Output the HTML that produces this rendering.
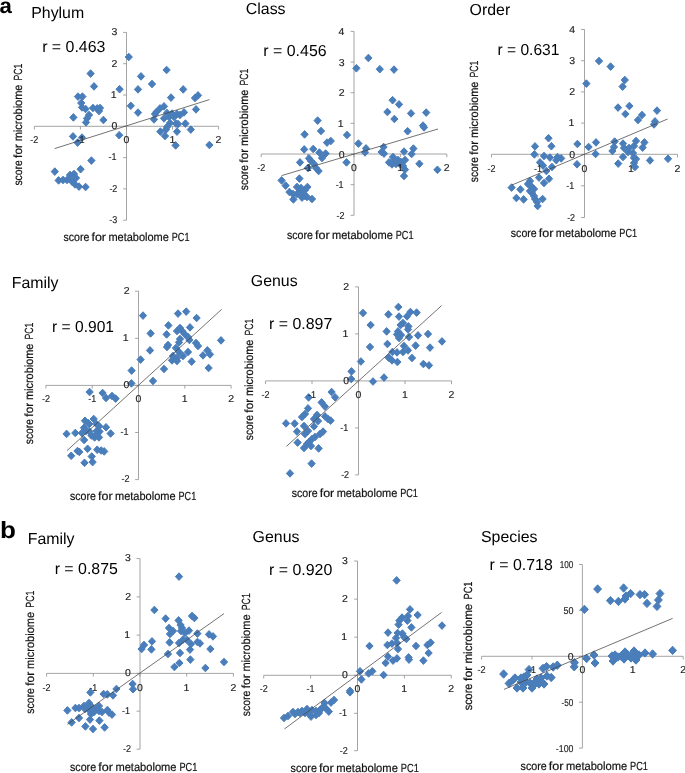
<!DOCTYPE html>
<html lang="en"><head><meta charset="utf-8"><title>Figure</title>
<style>
html,body{margin:0;padding:0;background:#fff}
body{width:685px;height:773px;overflow:hidden}
svg{display:block}
text{font-family:"Liberation Sans",sans-serif;fill:#000;text-rendering:geometricPrecision}
.t{font-size:15.9px}
.k{font-size:10.0px;fill:#222;stroke:#222;stroke-width:0.15px}
.l{font-size:11.8px;fill:#111;stroke:#111;stroke-width:0.2px}
.b{font-size:21.5px;font-weight:bold}
.d{fill:#4a7ebb;stroke:#4a7ebb;stroke-width:1;stroke-linejoin:round}
.a{stroke:#8e8e8e;stroke-width:0.8;fill:none}
.r{stroke:#444;stroke-width:0.75;fill:none}
</style></head><body>
<svg width="685" height="773" viewBox="0 0 685 773">
<rect width="685" height="773" fill="#fff"/>
<g>
<text class="t" x="31.19" y="18" textLength="53.02" lengthAdjust="spacingAndGlyphs">Phylum</text>
<text class="t" x="42.17" y="51.8" textLength="63.21" lengthAdjust="spacingAndGlyphs">r = 0.463</text>
<path class="a" d="M34.4 126.3H218.6 M126.5 32.4V220.2 M34.4 126.3v3.2 M80.4 126.3v3.2 M126.5 126.3v3.2 M172.5 126.3v3.2 M218.6 126.3v3.2 M126.5 32.4h-3.4 M126.5 63.7h-3.4 M126.5 95h-3.4 M126.5 126.3h-3.4 M126.5 157.6h-3.4 M126.5 188.9h-3.4 M126.5 220.2h-3.4"/>
<path class="d" d="M128.8 53.18l3.62 3.82l-3.62 3.82l-3.62 -3.82zM90.6 69.78l3.62 3.82l-3.62 3.82l-3.62 -3.82zM94 82.58l3.62 3.82l-3.62 3.82l-3.62 -3.82zM119.6 85.38l3.62 3.82l-3.62 3.82l-3.62 -3.82zM78 92.78l3.62 3.82l-3.62 3.82l-3.62 -3.82zM82.4 92.78l3.62 3.82l-3.62 3.82l-3.62 -3.82zM81.2 99.18l3.62 3.82l-3.62 3.82l-3.62 -3.82zM82 103.58l3.62 3.82l-3.62 3.82l-3.62 -3.82zM85.6 105.18l3.62 3.82l-3.62 3.82l-3.62 -3.82zM93 104.18l3.62 3.82l-3.62 3.82l-3.62 -3.82zM97.2 104.58l3.62 3.82l-3.62 3.82l-3.62 -3.82zM100 104.18l3.62 3.82l-3.62 3.82l-3.62 -3.82zM99 107.18l3.62 3.82l-3.62 3.82l-3.62 -3.82zM130.8 101.98l3.62 3.82l-3.62 3.82l-3.62 -3.82zM73.4 113.58l3.62 3.82l-3.62 3.82l-3.62 -3.82zM89 111.18l3.62 3.82l-3.62 3.82l-3.62 -3.82zM87 114.58l3.62 3.82l-3.62 3.82l-3.62 -3.82zM86 118.58l3.62 3.82l-3.62 3.82l-3.62 -3.82zM103.4 116.18l3.62 3.82l-3.62 3.82l-3.62 -3.82zM73 132.58l3.62 3.82l-3.62 3.82l-3.62 -3.82zM82 133.78l3.62 3.82l-3.62 3.82l-3.62 -3.82zM77.6 138.78l3.62 3.82l-3.62 3.82l-3.62 -3.82zM119.2 131.38l3.62 3.82l-3.62 3.82l-3.62 -3.82zM166.6 66.18l3.62 3.82l-3.62 3.82l-3.62 -3.82zM141 72.58l3.62 3.82l-3.62 3.82l-3.62 -3.82zM152 80.18l3.62 3.82l-3.62 3.82l-3.62 -3.82zM138 85.58l3.62 3.82l-3.62 3.82l-3.62 -3.82zM183.2 85.58l3.62 3.82l-3.62 3.82l-3.62 -3.82zM171 93.78l3.62 3.82l-3.62 3.82l-3.62 -3.82zM198 91.58l3.62 3.82l-3.62 3.82l-3.62 -3.82zM195 94.18l3.62 3.82l-3.62 3.82l-3.62 -3.82zM164 102.58l3.62 3.82l-3.62 3.82l-3.62 -3.82zM160 104.58l3.62 3.82l-3.62 3.82l-3.62 -3.82zM138 108.78l3.62 3.82l-3.62 3.82l-3.62 -3.82zM156.4 108.18l3.62 3.82l-3.62 3.82l-3.62 -3.82zM155 110.18l3.62 3.82l-3.62 3.82l-3.62 -3.82zM196 105.58l3.62 3.82l-3.62 3.82l-3.62 -3.82zM184 108.58l3.62 3.82l-3.62 3.82l-3.62 -3.82zM154 115.58l3.62 3.82l-3.62 3.82l-3.62 -3.82zM167 109.18l3.62 3.82l-3.62 3.82l-3.62 -3.82zM172 109.78l3.62 3.82l-3.62 3.82l-3.62 -3.82zM177 110.18l3.62 3.82l-3.62 3.82l-3.62 -3.82zM180 111.18l3.62 3.82l-3.62 3.82l-3.62 -3.82zM169 113.18l3.62 3.82l-3.62 3.82l-3.62 -3.82zM164 114.58l3.62 3.82l-3.62 3.82l-3.62 -3.82zM174 113.18l3.62 3.82l-3.62 3.82l-3.62 -3.82zM170 119.18l3.62 3.82l-3.62 3.82l-3.62 -3.82zM176 119.78l3.62 3.82l-3.62 3.82l-3.62 -3.82zM178 120.18l3.62 3.82l-3.62 3.82l-3.62 -3.82zM185.4 119.78l3.62 3.82l-3.62 3.82l-3.62 -3.82zM167 123.18l3.62 3.82l-3.62 3.82l-3.62 -3.82zM166 125.78l3.62 3.82l-3.62 3.82l-3.62 -3.82zM160.4 127.78l3.62 3.82l-3.62 3.82l-3.62 -3.82zM177 127.78l3.62 3.82l-3.62 3.82l-3.62 -3.82zM190.8 125.78l3.62 3.82l-3.62 3.82l-3.62 -3.82zM165 132.18l3.62 3.82l-3.62 3.82l-3.62 -3.82zM175.6 141.58l3.62 3.82l-3.62 3.82l-3.62 -3.82zM209.4 141.18l3.62 3.82l-3.62 3.82l-3.62 -3.82zM91.4 156.78l3.62 3.82l-3.62 3.82l-3.62 -3.82zM80.6 165.38l3.62 3.82l-3.62 3.82l-3.62 -3.82zM54.8 167.78l3.62 3.82l-3.62 3.82l-3.62 -3.82zM58.6 176.58l3.62 3.82l-3.62 3.82l-3.62 -3.82zM63 176.18l3.62 3.82l-3.62 3.82l-3.62 -3.82zM67 176.18l3.62 3.82l-3.62 3.82l-3.62 -3.82zM70 171.18l3.62 3.82l-3.62 3.82l-3.62 -3.82zM74 170.18l3.62 3.82l-3.62 3.82l-3.62 -3.82zM72 174.18l3.62 3.82l-3.62 3.82l-3.62 -3.82zM76 174.18l3.62 3.82l-3.62 3.82l-3.62 -3.82zM72 177.78l3.62 3.82l-3.62 3.82l-3.62 -3.82zM75 180.58l3.62 3.82l-3.62 3.82l-3.62 -3.82zM79 182.78l3.62 3.82l-3.62 3.82l-3.62 -3.82zM85.6 183.18l3.62 3.82l-3.62 3.82l-3.62 -3.82z"/>
<text class="k" x="30.37" y="143.3" textLength="8" lengthAdjust="spacingAndGlyphs">-2</text>
<text class="k" x="76.42" y="143.3" textLength="8" lengthAdjust="spacingAndGlyphs">-1</text>
<text class="k" x="123.54" y="143.3" textLength="5.84" lengthAdjust="spacingAndGlyphs">0</text>
<text class="k" x="169.44" y="143.3" textLength="5.84" lengthAdjust="spacingAndGlyphs">1</text>
<text class="k" x="215.62" y="143.3" textLength="5.84" lengthAdjust="spacingAndGlyphs">2</text>
<text class="k" x="111.57" y="35.2" textLength="5.84" lengthAdjust="spacingAndGlyphs">3</text>
<text class="k" x="111.62" y="66.5" textLength="5.84" lengthAdjust="spacingAndGlyphs">2</text>
<text class="k" x="110.72" y="97.8" textLength="5.84" lengthAdjust="spacingAndGlyphs">1</text>
<text class="k" x="111.52" y="129.1" textLength="5.84" lengthAdjust="spacingAndGlyphs">0</text>
<text class="k" x="108.49" y="160.4" textLength="8" lengthAdjust="spacingAndGlyphs">-1</text>
<text class="k" x="109.39" y="191.7" textLength="8" lengthAdjust="spacingAndGlyphs">-2</text>
<text class="k" x="109.34" y="223" textLength="8" lengthAdjust="spacingAndGlyphs">-3</text>
<path class="r" d="M54.6 148.6L209.4 99.6"/>
<text class="l" y="240.6"><tspan x="63.51" textLength="25.84" lengthAdjust="spacingAndGlyphs">score</tspan> <tspan x="91.44" textLength="14.54" lengthAdjust="spacingAndGlyphs">for</tspan> <tspan x="108.39" textLength="60.49" lengthAdjust="spacingAndGlyphs">metabolome</tspan> <tspan x="171.75" textLength="17.69" lengthAdjust="spacingAndGlyphs">PC1</tspan></text>
<text class="l" transform="translate(21.5 185.3) rotate(-90)" y="0"><tspan x="-0.28" textLength="25.29" lengthAdjust="spacingAndGlyphs">score</tspan> <tspan x="27.42" textLength="13.85" lengthAdjust="spacingAndGlyphs">for</tspan> <tspan x="44" textLength="56.72" lengthAdjust="spacingAndGlyphs">microbiome</tspan> <tspan x="104.74" textLength="16.98" lengthAdjust="spacingAndGlyphs">PC1</tspan></text>
</g>
<g>
<text class="t" x="245.81" y="14.4" textLength="39.76" lengthAdjust="spacingAndGlyphs">Class</text>
<text class="t" x="263.37" y="56.1" textLength="63.21" lengthAdjust="spacingAndGlyphs">r = 0.456</text>
<path class="a" d="M261.2 154H446.8 M354 31.4V215.3 M261.2 154v3.2 M307.6 154v3.2 M354 154v3.2 M400.4 154v3.2 M446.8 154v3.2 M354 31.4h-3.4 M354 62.1h-3.4 M354 92.7h-3.4 M354 123.3h-3.4 M354 154h-3.4 M354 184.7h-3.4 M354 215.3h-3.4"/>
<path class="d" d="M356.4 64.48l3.62 3.82l-3.62 3.82l-3.62 -3.82zM368.4 54.18l3.62 3.82l-3.62 3.82l-3.62 -3.82zM379.8 65.38l3.62 3.82l-3.62 3.82l-3.62 -3.82zM394 65.78l3.62 3.82l-3.62 3.82l-3.62 -3.82zM392.6 96.38l3.62 3.82l-3.62 3.82l-3.62 -3.82zM399 100.58l3.62 3.82l-3.62 3.82l-3.62 -3.82zM387.4 108.18l3.62 3.82l-3.62 3.82l-3.62 -3.82zM411 109.58l3.62 3.82l-3.62 3.82l-3.62 -3.82zM426.2 108.78l3.62 3.82l-3.62 3.82l-3.62 -3.82zM394.4 115.18l3.62 3.82l-3.62 3.82l-3.62 -3.82zM407.6 127.38l3.62 3.82l-3.62 3.82l-3.62 -3.82zM423 121.78l3.62 3.82l-3.62 3.82l-3.62 -3.82zM424 123.58l3.62 3.82l-3.62 3.82l-3.62 -3.82zM347 131.18l3.62 3.82l-3.62 3.82l-3.62 -3.82zM358.4 139.78l3.62 3.82l-3.62 3.82l-3.62 -3.82zM366 144.58l3.62 3.82l-3.62 3.82l-3.62 -3.82zM365 148.58l3.62 3.82l-3.62 3.82l-3.62 -3.82zM383.6 143.18l3.62 3.82l-3.62 3.82l-3.62 -3.82zM381.6 148.18l3.62 3.82l-3.62 3.82l-3.62 -3.82zM384 149.78l3.62 3.82l-3.62 3.82l-3.62 -3.82zM404 147.78l3.62 3.82l-3.62 3.82l-3.62 -3.82zM413.4 144.78l3.62 3.82l-3.62 3.82l-3.62 -3.82zM411.6 150.18l3.62 3.82l-3.62 3.82l-3.62 -3.82zM346.5 158.58l3.62 3.82l-3.62 3.82l-3.62 -3.82zM389 158.58l3.62 3.82l-3.62 3.82l-3.62 -3.82zM393 153.18l3.62 3.82l-3.62 3.82l-3.62 -3.82zM394 156.18l3.62 3.82l-3.62 3.82l-3.62 -3.82zM398 156.18l3.62 3.82l-3.62 3.82l-3.62 -3.82zM401 158.18l3.62 3.82l-3.62 3.82l-3.62 -3.82zM405 156.18l3.62 3.82l-3.62 3.82l-3.62 -3.82zM396 160.18l3.62 3.82l-3.62 3.82l-3.62 -3.82zM392 160.58l3.62 3.82l-3.62 3.82l-3.62 -3.82zM400 160.18l3.62 3.82l-3.62 3.82l-3.62 -3.82zM403 162.18l3.62 3.82l-3.62 3.82l-3.62 -3.82zM405 165.78l3.62 3.82l-3.62 3.82l-3.62 -3.82zM419.4 159.98l3.62 3.82l-3.62 3.82l-3.62 -3.82zM437.4 165.98l3.62 3.82l-3.62 3.82l-3.62 -3.82zM404 172.18l3.62 3.82l-3.62 3.82l-3.62 -3.82zM317.6 116.78l3.62 3.82l-3.62 3.82l-3.62 -3.82zM304.6 130.58l3.62 3.82l-3.62 3.82l-3.62 -3.82zM321 127.18l3.62 3.82l-3.62 3.82l-3.62 -3.82zM327 138.78l3.62 3.82l-3.62 3.82l-3.62 -3.82zM330.8 137.18l3.62 3.82l-3.62 3.82l-3.62 -3.82zM304.2 145.58l3.62 3.82l-3.62 3.82l-3.62 -3.82zM313.2 145.18l3.62 3.82l-3.62 3.82l-3.62 -3.82zM319.4 148.78l3.62 3.82l-3.62 3.82l-3.62 -3.82zM325.6 149.78l3.62 3.82l-3.62 3.82l-3.62 -3.82zM322 154.18l3.62 3.82l-3.62 3.82l-3.62 -3.82zM309 154.58l3.62 3.82l-3.62 3.82l-3.62 -3.82zM311 157.18l3.62 3.82l-3.62 3.82l-3.62 -3.82zM300 158.58l3.62 3.82l-3.62 3.82l-3.62 -3.82zM314 160.18l3.62 3.82l-3.62 3.82l-3.62 -3.82zM308 164.18l3.62 3.82l-3.62 3.82l-3.62 -3.82zM316 164.18l3.62 3.82l-3.62 3.82l-3.62 -3.82zM318.6 167.18l3.62 3.82l-3.62 3.82l-3.62 -3.82zM299.4 174.78l3.62 3.82l-3.62 3.82l-3.62 -3.82zM281.6 176.58l3.62 3.82l-3.62 3.82l-3.62 -3.82zM285.6 181.78l3.62 3.82l-3.62 3.82l-3.62 -3.82zM289.4 188.18l3.62 3.82l-3.62 3.82l-3.62 -3.82zM293.4 195.58l3.62 3.82l-3.62 3.82l-3.62 -3.82zM312 195.18l3.62 3.82l-3.62 3.82l-3.62 -3.82zM297 183.18l3.62 3.82l-3.62 3.82l-3.62 -3.82zM301 184.18l3.62 3.82l-3.62 3.82l-3.62 -3.82zM307.4 183.18l3.62 3.82l-3.62 3.82l-3.62 -3.82zM305 186.18l3.62 3.82l-3.62 3.82l-3.62 -3.82zM300 187.18l3.62 3.82l-3.62 3.82l-3.62 -3.82zM303 188.18l3.62 3.82l-3.62 3.82l-3.62 -3.82zM297 190.18l3.62 3.82l-3.62 3.82l-3.62 -3.82zM301 191.18l3.62 3.82l-3.62 3.82l-3.62 -3.82zM305 192.18l3.62 3.82l-3.62 3.82l-3.62 -3.82zM307 193.18l3.62 3.82l-3.62 3.82l-3.62 -3.82zM302 193.78l3.62 3.82l-3.62 3.82l-3.62 -3.82zM293 190.18l3.62 3.82l-3.62 3.82l-3.62 -3.82z"/>
<text class="k" x="257.22" y="171.1" textLength="8" lengthAdjust="spacingAndGlyphs">-2</text>
<text class="k" x="303.62" y="171.1" textLength="8" lengthAdjust="spacingAndGlyphs">-1</text>
<text class="k" x="351.09" y="171.1" textLength="5.84" lengthAdjust="spacingAndGlyphs">0</text>
<text class="k" x="397.34" y="171.1" textLength="5.84" lengthAdjust="spacingAndGlyphs">1</text>
<text class="k" x="443.87" y="171.1" textLength="5.84" lengthAdjust="spacingAndGlyphs">2</text>
<text class="k" x="338.56" y="35.1" textLength="5.84" lengthAdjust="spacingAndGlyphs">4</text>
<text class="k" x="338.72" y="65.75" textLength="5.84" lengthAdjust="spacingAndGlyphs">3</text>
<text class="k" x="338.77" y="96.4" textLength="5.84" lengthAdjust="spacingAndGlyphs">2</text>
<text class="k" x="337.87" y="127.05" textLength="5.84" lengthAdjust="spacingAndGlyphs">1</text>
<text class="k" x="338.67" y="157.7" textLength="5.84" lengthAdjust="spacingAndGlyphs">0</text>
<text class="k" x="335.64" y="188.35" textLength="8" lengthAdjust="spacingAndGlyphs">-1</text>
<text class="k" x="336.54" y="219" textLength="8" lengthAdjust="spacingAndGlyphs">-2</text>
<path class="r" d="M281.6 175.6L438 129"/>
<text class="l" y="238.5"><tspan x="286.91" textLength="25.99" lengthAdjust="spacingAndGlyphs">score</tspan> <tspan x="315" textLength="14.62" lengthAdjust="spacingAndGlyphs">for</tspan> <tspan x="332.03" textLength="60.83" lengthAdjust="spacingAndGlyphs">metabolome</tspan> <tspan x="395.75" textLength="17.78" lengthAdjust="spacingAndGlyphs">PC1</tspan></text>
<text class="l" transform="translate(248.2 190) rotate(-90)" y="0"><tspan x="-0.28" textLength="25.23" lengthAdjust="spacingAndGlyphs">score</tspan> <tspan x="27.35" textLength="13.82" lengthAdjust="spacingAndGlyphs">for</tspan> <tspan x="43.89" textLength="56.58" lengthAdjust="spacingAndGlyphs">microbiome</tspan> <tspan x="104.48" textLength="16.93" lengthAdjust="spacingAndGlyphs">PC1</tspan></text>
</g>
<g>
<text class="t" x="469.64" y="14.9" textLength="40.64" lengthAdjust="spacingAndGlyphs">Order</text>
<text class="t" x="497.49" y="54.8" textLength="61.94" lengthAdjust="spacingAndGlyphs">r = 0.631</text>
<path class="a" d="M491.5 154.3H677.5 M584.5 29.5V217.5 M491.5 154.3v3.2 M538 154.3v3.2 M584.5 154.3v3.2 M631 154.3v3.2 M677.5 154.3v3.2 M584.5 29.5h-3.4 M584.5 60.7h-3.4 M584.5 91.9h-3.4 M584.5 123.1h-3.4 M584.5 154.3h-3.4 M584.5 185.8h-3.4 M584.5 217.5h-3.4"/>
<path class="d" d="M599 57.18l3.62 3.82l-3.62 3.82l-3.62 -3.82zM610.6 62.78l3.62 3.82l-3.62 3.82l-3.62 -3.82zM586.4 79.78l3.62 3.82l-3.62 3.82l-3.62 -3.82zM624.8 76.18l3.62 3.82l-3.62 3.82l-3.62 -3.82zM622.6 82.78l3.62 3.82l-3.62 3.82l-3.62 -3.82zM618 103.78l3.62 3.82l-3.62 3.82l-3.62 -3.82zM629.4 102.18l3.62 3.82l-3.62 3.82l-3.62 -3.82zM625.4 110.18l3.62 3.82l-3.62 3.82l-3.62 -3.82zM642 111.18l3.62 3.82l-3.62 3.82l-3.62 -3.82zM657 106.78l3.62 3.82l-3.62 3.82l-3.62 -3.82zM638 116.18l3.62 3.82l-3.62 3.82l-3.62 -3.82zM655 117.58l3.62 3.82l-3.62 3.82l-3.62 -3.82zM654 120.58l3.62 3.82l-3.62 3.82l-3.62 -3.82zM596 138.58l3.62 3.82l-3.62 3.82l-3.62 -3.82zM577.4 140.18l3.62 3.82l-3.62 3.82l-3.62 -3.82zM588.6 143.18l3.62 3.82l-3.62 3.82l-3.62 -3.82zM614.6 137.78l3.62 3.82l-3.62 3.82l-3.62 -3.82zM614 143.18l3.62 3.82l-3.62 3.82l-3.62 -3.82zM612.4 147.18l3.62 3.82l-3.62 3.82l-3.62 -3.82zM595.6 150.18l3.62 3.82l-3.62 3.82l-3.62 -3.82zM636 137.18l3.62 3.82l-3.62 3.82l-3.62 -3.82zM644.4 138.58l3.62 3.82l-3.62 3.82l-3.62 -3.82zM642.6 143.78l3.62 3.82l-3.62 3.82l-3.62 -3.82zM623 139.78l3.62 3.82l-3.62 3.82l-3.62 -3.82zM624 144.18l3.62 3.82l-3.62 3.82l-3.62 -3.82zM629 144.18l3.62 3.82l-3.62 3.82l-3.62 -3.82zM634 142.18l3.62 3.82l-3.62 3.82l-3.62 -3.82zM628 148.18l3.62 3.82l-3.62 3.82l-3.62 -3.82zM633 149.18l3.62 3.82l-3.62 3.82l-3.62 -3.82zM623 153.18l3.62 3.82l-3.62 3.82l-3.62 -3.82zM634 154.18l3.62 3.82l-3.62 3.82l-3.62 -3.82zM636 155.18l3.62 3.82l-3.62 3.82l-3.62 -3.82zM650 156.58l3.62 3.82l-3.62 3.82l-3.62 -3.82zM668 154.98l3.62 3.82l-3.62 3.82l-3.62 -3.82zM618.2 159.78l3.62 3.82l-3.62 3.82l-3.62 -3.82zM634 159.18l3.62 3.82l-3.62 3.82l-3.62 -3.82zM635 163.18l3.62 3.82l-3.62 3.82l-3.62 -3.82zM577 160.48l3.62 3.82l-3.62 3.82l-3.62 -3.82zM548.5 134.38l3.62 3.82l-3.62 3.82l-3.62 -3.82zM535 142.58l3.62 3.82l-3.62 3.82l-3.62 -3.82zM551.4 142.38l3.62 3.82l-3.62 3.82l-3.62 -3.82zM534.4 150.58l3.62 3.82l-3.62 3.82l-3.62 -3.82zM544 152.18l3.62 3.82l-3.62 3.82l-3.62 -3.82zM550 153.78l3.62 3.82l-3.62 3.82l-3.62 -3.82zM557.5 153.18l3.62 3.82l-3.62 3.82l-3.62 -3.82zM561.2 154.58l3.62 3.82l-3.62 3.82l-3.62 -3.82zM556.3 156.38l3.62 3.82l-3.62 3.82l-3.62 -3.82zM540 158.58l3.62 3.82l-3.62 3.82l-3.62 -3.82zM543 161.78l3.62 3.82l-3.62 3.82l-3.62 -3.82zM552 163.18l3.62 3.82l-3.62 3.82l-3.62 -3.82zM546.4 167.18l3.62 3.82l-3.62 3.82l-3.62 -3.82zM539 173.78l3.62 3.82l-3.62 3.82l-3.62 -3.82zM549 174.98l3.62 3.82l-3.62 3.82l-3.62 -3.82zM544 179.18l3.62 3.82l-3.62 3.82l-3.62 -3.82zM530 177.18l3.62 3.82l-3.62 3.82l-3.62 -3.82zM528 180.18l3.62 3.82l-3.62 3.82l-3.62 -3.82zM511.6 183.78l3.62 3.82l-3.62 3.82l-3.62 -3.82zM520.4 185.58l3.62 3.82l-3.62 3.82l-3.62 -3.82zM516.4 194.18l3.62 3.82l-3.62 3.82l-3.62 -3.82zM523.6 195.58l3.62 3.82l-3.62 3.82l-3.62 -3.82zM542.6 195.18l3.62 3.82l-3.62 3.82l-3.62 -3.82zM537.6 202.18l3.62 3.82l-3.62 3.82l-3.62 -3.82zM531 182.18l3.62 3.82l-3.62 3.82l-3.62 -3.82zM534 185.18l3.62 3.82l-3.62 3.82l-3.62 -3.82zM530 187.18l3.62 3.82l-3.62 3.82l-3.62 -3.82zM532 189.18l3.62 3.82l-3.62 3.82l-3.62 -3.82zM534 192.18l3.62 3.82l-3.62 3.82l-3.62 -3.82zM535 195.18l3.62 3.82l-3.62 3.82l-3.62 -3.82zM537 198.18l3.62 3.82l-3.62 3.82l-3.62 -3.82z"/>
<text class="k" x="487.52" y="171.9" textLength="8" lengthAdjust="spacingAndGlyphs">-2</text>
<text class="k" x="534.02" y="171.9" textLength="8" lengthAdjust="spacingAndGlyphs">-1</text>
<text class="k" x="581.59" y="171.9" textLength="5.84" lengthAdjust="spacingAndGlyphs">0</text>
<text class="k" x="627.94" y="171.9" textLength="5.84" lengthAdjust="spacingAndGlyphs">1</text>
<text class="k" x="674.57" y="171.9" textLength="5.84" lengthAdjust="spacingAndGlyphs">2</text>
<text class="k" x="569.16" y="32.7" textLength="5.84" lengthAdjust="spacingAndGlyphs">4</text>
<text class="k" x="569.32" y="63.9" textLength="5.84" lengthAdjust="spacingAndGlyphs">3</text>
<text class="k" x="569.37" y="95.1" textLength="5.84" lengthAdjust="spacingAndGlyphs">2</text>
<text class="k" x="568.47" y="126.3" textLength="5.84" lengthAdjust="spacingAndGlyphs">1</text>
<text class="k" x="569.27" y="157.5" textLength="5.84" lengthAdjust="spacingAndGlyphs">0</text>
<text class="k" x="566.24" y="189" textLength="8" lengthAdjust="spacingAndGlyphs">-1</text>
<text class="k" x="567.14" y="220.7" textLength="8" lengthAdjust="spacingAndGlyphs">-2</text>
<path class="r" d="M512 185L667.6 119"/>
<text class="l" y="236.7"><tspan x="510.81" textLength="25.91" lengthAdjust="spacingAndGlyphs">score</tspan> <tspan x="538.81" textLength="14.57" lengthAdjust="spacingAndGlyphs">for</tspan> <tspan x="555.79" textLength="60.63" lengthAdjust="spacingAndGlyphs">metabolome</tspan> <tspan x="619.31" textLength="17.73" lengthAdjust="spacingAndGlyphs">PC1</tspan></text>
<text class="l" transform="translate(478.2 182) rotate(-90)" y="0"><tspan x="-0.28" textLength="25.23" lengthAdjust="spacingAndGlyphs">score</tspan> <tspan x="27.35" textLength="13.82" lengthAdjust="spacingAndGlyphs">for</tspan> <tspan x="43.89" textLength="56.58" lengthAdjust="spacingAndGlyphs">microbiome</tspan> <tspan x="104.48" textLength="16.93" lengthAdjust="spacingAndGlyphs">PC1</tspan></text>
</g>
<g>
<text class="t" x="11.69" y="287.8" textLength="46.82" lengthAdjust="spacingAndGlyphs">Family</text>
<text class="t" x="52.09" y="331.5" textLength="61.94" lengthAdjust="spacingAndGlyphs">r = 0.901</text>
<path class="a" d="M45.9 385.4H231.1 M138.5 291.2V479.6 M45.9 385.4v3.2 M92.2 385.4v3.2 M138.5 385.4v3.2 M184.8 385.4v3.2 M231.1 385.4v3.2 M138.5 291.2h-3.4 M138.5 338.3h-3.4 M138.5 385.4h-3.4 M138.5 432.5h-3.4 M138.5 479.6h-3.4"/>
<path class="d" d="M143 311.78l3.62 3.82l-3.62 3.82l-3.62 -3.82zM178 309.78l3.62 3.82l-3.62 3.82l-3.62 -3.82zM186.2 307.78l3.62 3.82l-3.62 3.82l-3.62 -3.82zM196.6 314.18l3.62 3.82l-3.62 3.82l-3.62 -3.82zM168.4 321.58l3.62 3.82l-3.62 3.82l-3.62 -3.82zM190 323.58l3.62 3.82l-3.62 3.82l-3.62 -3.82zM180 324.18l3.62 3.82l-3.62 3.82l-3.62 -3.82zM177 327.18l3.62 3.82l-3.62 3.82l-3.62 -3.82zM182 327.18l3.62 3.82l-3.62 3.82l-3.62 -3.82zM150.6 329.58l3.62 3.82l-3.62 3.82l-3.62 -3.82zM166.6 330.58l3.62 3.82l-3.62 3.82l-3.62 -3.82zM185 330.58l3.62 3.82l-3.62 3.82l-3.62 -3.82zM188 333.18l3.62 3.82l-3.62 3.82l-3.62 -3.82zM180 335.18l3.62 3.82l-3.62 3.82l-3.62 -3.82zM189.4 336.18l3.62 3.82l-3.62 3.82l-3.62 -3.82zM179 338.58l3.62 3.82l-3.62 3.82l-3.62 -3.82zM221 336.58l3.62 3.82l-3.62 3.82l-3.62 -3.82zM196 339.18l3.62 3.82l-3.62 3.82l-3.62 -3.82zM198 342.18l3.62 3.82l-3.62 3.82l-3.62 -3.82zM168 341.18l3.62 3.82l-3.62 3.82l-3.62 -3.82zM167 343.18l3.62 3.82l-3.62 3.82l-3.62 -3.82zM176 344.18l3.62 3.82l-3.62 3.82l-3.62 -3.82zM150 346.58l3.62 3.82l-3.62 3.82l-3.62 -3.82zM179 348.18l3.62 3.82l-3.62 3.82l-3.62 -3.82zM188 348.18l3.62 3.82l-3.62 3.82l-3.62 -3.82zM207.4 346.58l3.62 3.82l-3.62 3.82l-3.62 -3.82zM210 350.58l3.62 3.82l-3.62 3.82l-3.62 -3.82zM203 351.58l3.62 3.82l-3.62 3.82l-3.62 -3.82zM173 352.18l3.62 3.82l-3.62 3.82l-3.62 -3.82zM183 352.18l3.62 3.82l-3.62 3.82l-3.62 -3.82zM177 354.18l3.62 3.82l-3.62 3.82l-3.62 -3.82zM172 356.58l3.62 3.82l-3.62 3.82l-3.62 -3.82zM177 357.18l3.62 3.82l-3.62 3.82l-3.62 -3.82zM191.6 357.78l3.62 3.82l-3.62 3.82l-3.62 -3.82zM140.6 355.78l3.62 3.82l-3.62 3.82l-3.62 -3.82zM208.6 364.18l3.62 3.82l-3.62 3.82l-3.62 -3.82zM164 365.18l3.62 3.82l-3.62 3.82l-3.62 -3.82zM131.6 366.78l3.62 3.82l-3.62 3.82l-3.62 -3.82zM153 377.18l3.62 3.82l-3.62 3.82l-3.62 -3.82zM131.4 379.58l3.62 3.82l-3.62 3.82l-3.62 -3.82zM89.6 388.18l3.62 3.82l-3.62 3.82l-3.62 -3.82zM102.6 389.18l3.62 3.82l-3.62 3.82l-3.62 -3.82zM106 394.18l3.62 3.82l-3.62 3.82l-3.62 -3.82zM112 392.18l3.62 3.82l-3.62 3.82l-3.62 -3.82zM115.6 394.78l3.62 3.82l-3.62 3.82l-3.62 -3.82zM85 416.98l3.62 3.82l-3.62 3.82l-3.62 -3.82zM93.7 415.18l3.62 3.82l-3.62 3.82l-3.62 -3.82zM88.5 419.48l3.62 3.82l-3.62 3.82l-3.62 -3.82zM96.4 420.18l3.62 3.82l-3.62 3.82l-3.62 -3.82zM89.2 420.18l3.62 3.82l-3.62 3.82l-3.62 -3.82zM89.2 427.38l3.62 3.82l-3.62 3.82l-3.62 -3.82zM96.4 427.38l3.62 3.82l-3.62 3.82l-3.62 -3.82zM99.2 422.38l3.62 3.82l-3.62 3.82l-3.62 -3.82zM106 423.48l3.62 3.82l-3.62 3.82l-3.62 -3.82zM84 423.98l3.62 3.82l-3.62 3.82l-3.62 -3.82zM86 427.18l3.62 3.82l-3.62 3.82l-3.62 -3.82zM66.6 430.08l3.62 3.82l-3.62 3.82l-3.62 -3.82zM75.3 429.18l3.62 3.82l-3.62 3.82l-3.62 -3.82zM81.9 429.18l3.62 3.82l-3.62 3.82l-3.62 -3.82zM99.5 427.68l3.62 3.82l-3.62 3.82l-3.62 -3.82zM110.6 429.68l3.62 3.82l-3.62 3.82l-3.62 -3.82zM94.6 433.58l3.62 3.82l-3.62 3.82l-3.62 -3.82zM99 433.58l3.62 3.82l-3.62 3.82l-3.62 -3.82zM96.3 430.98l3.62 3.82l-3.62 3.82l-3.62 -3.82zM91.5 431.68l3.62 3.82l-3.62 3.82l-3.62 -3.82zM84.1 436.18l3.62 3.82l-3.62 3.82l-3.62 -3.82zM87.6 444.98l3.62 3.82l-3.62 3.82l-3.62 -3.82zM77.5 447.18l3.62 3.82l-3.62 3.82l-3.62 -3.82zM79.3 448.08l3.62 3.82l-3.62 3.82l-3.62 -3.82zM97.2 445.88l3.62 3.82l-3.62 3.82l-3.62 -3.82zM101.2 446.68l3.62 3.82l-3.62 3.82l-3.62 -3.82zM104.2 447.58l3.62 3.82l-3.62 3.82l-3.62 -3.82zM71.2 451.98l3.62 3.82l-3.62 3.82l-3.62 -3.82zM91.7 452.68l3.62 3.82l-3.62 3.82l-3.62 -3.82zM84.5 458.98l3.62 3.82l-3.62 3.82l-3.62 -3.82zM92.6 458.28l3.62 3.82l-3.62 3.82l-3.62 -3.82z"/>
<text class="k" x="41.92" y="402.2" textLength="8" lengthAdjust="spacingAndGlyphs">-2</text>
<text class="k" x="88.22" y="402.2" textLength="8" lengthAdjust="spacingAndGlyphs">-1</text>
<text class="k" x="135.59" y="402.2" textLength="5.84" lengthAdjust="spacingAndGlyphs">0</text>
<text class="k" x="181.74" y="402.2" textLength="5.84" lengthAdjust="spacingAndGlyphs">1</text>
<text class="k" x="228.17" y="402.2" textLength="5.84" lengthAdjust="spacingAndGlyphs">2</text>
<text class="k" x="123.67" y="293.8" textLength="5.84" lengthAdjust="spacingAndGlyphs">2</text>
<text class="k" x="122.77" y="340.9" textLength="5.84" lengthAdjust="spacingAndGlyphs">1</text>
<text class="k" x="123.57" y="388" textLength="5.84" lengthAdjust="spacingAndGlyphs">0</text>
<text class="k" x="120.54" y="435.1" textLength="8" lengthAdjust="spacingAndGlyphs">-1</text>
<text class="k" x="121.44" y="482.2" textLength="8" lengthAdjust="spacingAndGlyphs">-2</text>
<path class="r" d="M67 450.6L221.6 309.4"/>
<text class="l" y="499.6"><tspan x="70.01" textLength="25.91" lengthAdjust="spacingAndGlyphs">score</tspan> <tspan x="98.01" textLength="14.57" lengthAdjust="spacingAndGlyphs">for</tspan> <tspan x="114.99" textLength="60.63" lengthAdjust="spacingAndGlyphs">metabolome</tspan> <tspan x="178.51" textLength="17.73" lengthAdjust="spacingAndGlyphs">PC1</tspan></text>
<text class="l" transform="translate(33.4 444) rotate(-90)" y="0"><tspan x="-0.28" textLength="25.23" lengthAdjust="spacingAndGlyphs">score</tspan> <tspan x="27.35" textLength="13.82" lengthAdjust="spacingAndGlyphs">for</tspan> <tspan x="43.89" textLength="56.58" lengthAdjust="spacingAndGlyphs">microbiome</tspan> <tspan x="104.48" textLength="16.93" lengthAdjust="spacingAndGlyphs">PC1</tspan></text>
</g>
<g>
<text class="t" x="250.81" y="286" textLength="46.85" lengthAdjust="spacingAndGlyphs">Genus</text>
<text class="t" x="269.07" y="329" textLength="63.21" lengthAdjust="spacingAndGlyphs">r = 0.897</text>
<path class="a" d="M265.5 380.9H451.5 M358.5 286.9V474.9 M265.5 380.9v3.2 M312 380.9v3.2 M358.5 380.9v3.2 M405 380.9v3.2 M451.5 380.9v3.2 M358.5 286.9h-3.4 M358.5 333.9h-3.4 M358.5 380.9h-3.4 M358.5 427.9h-3.4 M358.5 474.9h-3.4"/>
<path class="d" d="M398.4 303.18l3.62 3.82l-3.62 3.82l-3.62 -3.82zM363 309.18l3.62 3.82l-3.62 3.82l-3.62 -3.82zM388.4 310.58l3.62 3.82l-3.62 3.82l-3.62 -3.82zM399 312.78l3.62 3.82l-3.62 3.82l-3.62 -3.82zM410.4 308.18l3.62 3.82l-3.62 3.82l-3.62 -3.82zM416.6 308.78l3.62 3.82l-3.62 3.82l-3.62 -3.82zM407 312.58l3.62 3.82l-3.62 3.82l-3.62 -3.82zM370.6 321.18l3.62 3.82l-3.62 3.82l-3.62 -3.82zM403 319.18l3.62 3.82l-3.62 3.82l-3.62 -3.82zM400.6 321.18l3.62 3.82l-3.62 3.82l-3.62 -3.82zM408.4 322.58l3.62 3.82l-3.62 3.82l-3.62 -3.82zM408 325.58l3.62 3.82l-3.62 3.82l-3.62 -3.82zM386.6 327.58l3.62 3.82l-3.62 3.82l-3.62 -3.82zM398 327.58l3.62 3.82l-3.62 3.82l-3.62 -3.82zM397 330.58l3.62 3.82l-3.62 3.82l-3.62 -3.82zM401 331.18l3.62 3.82l-3.62 3.82l-3.62 -3.82zM399 334.18l3.62 3.82l-3.62 3.82l-3.62 -3.82zM409 333.18l3.62 3.82l-3.62 3.82l-3.62 -3.82zM418 331.58l3.62 3.82l-3.62 3.82l-3.62 -3.82zM428 330.18l3.62 3.82l-3.62 3.82l-3.62 -3.82zM442 337.58l3.62 3.82l-3.62 3.82l-3.62 -3.82zM387.4 340.18l3.62 3.82l-3.62 3.82l-3.62 -3.82zM370 343.18l3.62 3.82l-3.62 3.82l-3.62 -3.82zM404 342.18l3.62 3.82l-3.62 3.82l-3.62 -3.82zM415.6 341.78l3.62 3.82l-3.62 3.82l-3.62 -3.82zM430 343.78l3.62 3.82l-3.62 3.82l-3.62 -3.82zM408 346.58l3.62 3.82l-3.62 3.82l-3.62 -3.82zM403 348.18l3.62 3.82l-3.62 3.82l-3.62 -3.82zM392.4 348.18l3.62 3.82l-3.62 3.82l-3.62 -3.82zM397 348.58l3.62 3.82l-3.62 3.82l-3.62 -3.82zM388.6 353.78l3.62 3.82l-3.62 3.82l-3.62 -3.82zM392 356.58l3.62 3.82l-3.62 3.82l-3.62 -3.82zM397.4 358.18l3.62 3.82l-3.62 3.82l-3.62 -3.82zM412 354.18l3.62 3.82l-3.62 3.82l-3.62 -3.82zM423.4 360.18l3.62 3.82l-3.62 3.82l-3.62 -3.82zM429 361.58l3.62 3.82l-3.62 3.82l-3.62 -3.82zM360.9 357.68l3.62 3.82l-3.62 3.82l-3.62 -3.82zM351.5 367.58l3.62 3.82l-3.62 3.82l-3.62 -3.82zM351.2 375.18l3.62 3.82l-3.62 3.82l-3.62 -3.82zM384 373.78l3.62 3.82l-3.62 3.82l-3.62 -3.82zM373 377.68l3.62 3.82l-3.62 3.82l-3.62 -3.82zM331.6 388.18l3.62 3.82l-3.62 3.82l-3.62 -3.82zM335 393.38l3.62 3.82l-3.62 3.82l-3.62 -3.82zM308.6 393.58l3.62 3.82l-3.62 3.82l-3.62 -3.82zM321.6 398.58l3.62 3.82l-3.62 3.82l-3.62 -3.82zM325 402.78l3.62 3.82l-3.62 3.82l-3.62 -3.82zM308 404.58l3.62 3.82l-3.62 3.82l-3.62 -3.82zM305 410.18l3.62 3.82l-3.62 3.82l-3.62 -3.82zM302 413.18l3.62 3.82l-3.62 3.82l-3.62 -3.82zM317 411.18l3.62 3.82l-3.62 3.82l-3.62 -3.82zM325 412.58l3.62 3.82l-3.62 3.82l-3.62 -3.82zM328 415.18l3.62 3.82l-3.62 3.82l-3.62 -3.82zM330.6 416.78l3.62 3.82l-3.62 3.82l-3.62 -3.82zM314 415.18l3.62 3.82l-3.62 3.82l-3.62 -3.82zM318 417.18l3.62 3.82l-3.62 3.82l-3.62 -3.82zM286 419.58l3.62 3.82l-3.62 3.82l-3.62 -3.82zM294.6 419.78l3.62 3.82l-3.62 3.82l-3.62 -3.82zM304 422.18l3.62 3.82l-3.62 3.82l-3.62 -3.82zM314 422.58l3.62 3.82l-3.62 3.82l-3.62 -3.82zM297 427.78l3.62 3.82l-3.62 3.82l-3.62 -3.82zM308 427.18l3.62 3.82l-3.62 3.82l-3.62 -3.82zM323 427.78l3.62 3.82l-3.62 3.82l-3.62 -3.82zM305 430.18l3.62 3.82l-3.62 3.82l-3.62 -3.82zM320 430.18l3.62 3.82l-3.62 3.82l-3.62 -3.82zM315 433.18l3.62 3.82l-3.62 3.82l-3.62 -3.82zM312 435.18l3.62 3.82l-3.62 3.82l-3.62 -3.82zM309 438.18l3.62 3.82l-3.62 3.82l-3.62 -3.82zM297.6 438.78l3.62 3.82l-3.62 3.82l-3.62 -3.82zM307 440.18l3.62 3.82l-3.62 3.82l-3.62 -3.82zM311 442.18l3.62 3.82l-3.62 3.82l-3.62 -3.82zM304 444.18l3.62 3.82l-3.62 3.82l-3.62 -3.82zM318.6 444.58l3.62 3.82l-3.62 3.82l-3.62 -3.82zM311.6 459.78l3.62 3.82l-3.62 3.82l-3.62 -3.82zM290 469.58l3.62 3.82l-3.62 3.82l-3.62 -3.82z"/>
<text class="k" x="261.52" y="398.15" textLength="8" lengthAdjust="spacingAndGlyphs">-2</text>
<text class="k" x="308.02" y="398.15" textLength="8" lengthAdjust="spacingAndGlyphs">-1</text>
<text class="k" x="355.59" y="398.15" textLength="5.84" lengthAdjust="spacingAndGlyphs">0</text>
<text class="k" x="401.94" y="398.15" textLength="5.84" lengthAdjust="spacingAndGlyphs">1</text>
<text class="k" x="448.57" y="398.15" textLength="5.84" lengthAdjust="spacingAndGlyphs">2</text>
<text class="k" x="343.37" y="289.95" textLength="5.84" lengthAdjust="spacingAndGlyphs">2</text>
<text class="k" x="342.47" y="336.95" textLength="5.84" lengthAdjust="spacingAndGlyphs">1</text>
<text class="k" x="343.27" y="383.95" textLength="5.84" lengthAdjust="spacingAndGlyphs">0</text>
<text class="k" x="340.24" y="430.95" textLength="8" lengthAdjust="spacingAndGlyphs">-1</text>
<text class="k" x="341.14" y="477.95" textLength="8" lengthAdjust="spacingAndGlyphs">-2</text>
<path class="r" d="M286.4 446.4L441.6 305.6"/>
<text class="l" y="497.4"><tspan x="291.71" textLength="25.91" lengthAdjust="spacingAndGlyphs">score</tspan> <tspan x="319.71" textLength="14.57" lengthAdjust="spacingAndGlyphs">for</tspan> <tspan x="336.69" textLength="60.63" lengthAdjust="spacingAndGlyphs">metabolome</tspan> <tspan x="400.21" textLength="17.73" lengthAdjust="spacingAndGlyphs">PC1</tspan></text>
<text class="l" transform="translate(252.8 440) rotate(-90)" y="0"><tspan x="-0.28" textLength="25.23" lengthAdjust="spacingAndGlyphs">score</tspan> <tspan x="27.35" textLength="13.82" lengthAdjust="spacingAndGlyphs">for</tspan> <tspan x="43.89" textLength="56.58" lengthAdjust="spacingAndGlyphs">microbiome</tspan> <tspan x="104.48" textLength="16.93" lengthAdjust="spacingAndGlyphs">PC1</tspan></text>
</g>
<g>
<text class="t" x="27.69" y="543.6" textLength="46.82" lengthAdjust="spacingAndGlyphs">Family</text>
<text class="t" x="54.67" y="573.7" textLength="63.21" lengthAdjust="spacingAndGlyphs">r = 0.875</text>
<path class="a" d="M46.6 673.4H233.4 M140 558.6V749.2 M46.6 673.4v3.2 M93.3 673.4v3.2 M140 673.4v3.2 M186.7 673.4v3.2 M233.4 673.4v3.2 M140 558.6h-3.4 M140 596.9h-3.4 M140 635.1h-3.4 M140 673.4h-3.4 M140 711.2h-3.4 M140 749.2h-3.4"/>
<path class="d" d="M179 572.78l3.62 3.82l-3.62 3.82l-3.62 -3.82zM154.4 606.18l3.62 3.82l-3.62 3.82l-3.62 -3.82zM165.6 614.78l3.62 3.82l-3.62 3.82l-3.62 -3.82zM192 612.18l3.62 3.82l-3.62 3.82l-3.62 -3.82zM194.4 614.18l3.62 3.82l-3.62 3.82l-3.62 -3.82zM178.6 616.58l3.62 3.82l-3.62 3.82l-3.62 -3.82zM180.6 621.18l3.62 3.82l-3.62 3.82l-3.62 -3.82zM169 624.18l3.62 3.82l-3.62 3.82l-3.62 -3.82zM182 624.18l3.62 3.82l-3.62 3.82l-3.62 -3.82zM173 627.18l3.62 3.82l-3.62 3.82l-3.62 -3.82zM181 627.18l3.62 3.82l-3.62 3.82l-3.62 -3.82zM189 626.78l3.62 3.82l-3.62 3.82l-3.62 -3.82zM185 629.18l3.62 3.82l-3.62 3.82l-3.62 -3.82zM170 630.18l3.62 3.82l-3.62 3.82l-3.62 -3.82zM197.4 629.78l3.62 3.82l-3.62 3.82l-3.62 -3.82zM209 630.58l3.62 3.82l-3.62 3.82l-3.62 -3.82zM213 632.58l3.62 3.82l-3.62 3.82l-3.62 -3.82zM152 637.58l3.62 3.82l-3.62 3.82l-3.62 -3.82zM169.6 638.58l3.62 3.82l-3.62 3.82l-3.62 -3.82zM183 635.78l3.62 3.82l-3.62 3.82l-3.62 -3.82zM187 636.18l3.62 3.82l-3.62 3.82l-3.62 -3.82zM179 639.18l3.62 3.82l-3.62 3.82l-3.62 -3.82zM191 640.18l3.62 3.82l-3.62 3.82l-3.62 -3.82zM197.4 638.18l3.62 3.82l-3.62 3.82l-3.62 -3.82zM200 639.58l3.62 3.82l-3.62 3.82l-3.62 -3.82zM144 641.18l3.62 3.82l-3.62 3.82l-3.62 -3.82zM141.6 645.18l3.62 3.82l-3.62 3.82l-3.62 -3.82zM151.4 645.58l3.62 3.82l-3.62 3.82l-3.62 -3.82zM190 645.78l3.62 3.82l-3.62 3.82l-3.62 -3.82zM210.4 645.18l3.62 3.82l-3.62 3.82l-3.62 -3.82zM168 650.18l3.62 3.82l-3.62 3.82l-3.62 -3.82zM180 649.18l3.62 3.82l-3.62 3.82l-3.62 -3.82zM190.4 655.78l3.62 3.82l-3.62 3.82l-3.62 -3.82zM179.4 659.18l3.62 3.82l-3.62 3.82l-3.62 -3.82zM174.4 663.18l3.62 3.82l-3.62 3.82l-3.62 -3.82zM205.4 664.18l3.62 3.82l-3.62 3.82l-3.62 -3.82zM224 658.18l3.62 3.82l-3.62 3.82l-3.62 -3.82zM132.6 680.18l3.62 3.82l-3.62 3.82l-3.62 -3.82zM133 685.38l3.62 3.82l-3.62 3.82l-3.62 -3.82zM116.4 685.18l3.62 3.82l-3.62 3.82l-3.62 -3.82zM90.4 688.58l3.62 3.82l-3.62 3.82l-3.62 -3.82zM103.6 690.18l3.62 3.82l-3.62 3.82l-3.62 -3.82zM107.4 690.58l3.62 3.82l-3.62 3.82l-3.62 -3.82zM113 691.58l3.62 3.82l-3.62 3.82l-3.62 -3.82zM67.4 706.58l3.62 3.82l-3.62 3.82l-3.62 -3.82zM75.4 704.18l3.62 3.82l-3.62 3.82l-3.62 -3.82zM79 704.18l3.62 3.82l-3.62 3.82l-3.62 -3.82zM84 702.18l3.62 3.82l-3.62 3.82l-3.62 -3.82zM89 699.18l3.62 3.82l-3.62 3.82l-3.62 -3.82zM88 703.18l3.62 3.82l-3.62 3.82l-3.62 -3.82zM92 703.18l3.62 3.82l-3.62 3.82l-3.62 -3.82zM99 702.18l3.62 3.82l-3.62 3.82l-3.62 -3.82zM96 705.18l3.62 3.82l-3.62 3.82l-3.62 -3.82zM90 707.18l3.62 3.82l-3.62 3.82l-3.62 -3.82zM94 708.18l3.62 3.82l-3.62 3.82l-3.62 -3.82zM99 707.18l3.62 3.82l-3.62 3.82l-3.62 -3.82zM102 708.18l3.62 3.82l-3.62 3.82l-3.62 -3.82zM107.4 706.18l3.62 3.82l-3.62 3.82l-3.62 -3.82zM109 708.78l3.62 3.82l-3.62 3.82l-3.62 -3.82zM112 710.78l3.62 3.82l-3.62 3.82l-3.62 -3.82zM85 705.18l3.62 3.82l-3.62 3.82l-3.62 -3.82zM91 710.18l3.62 3.82l-3.62 3.82l-3.62 -3.82zM79 714.18l3.62 3.82l-3.62 3.82l-3.62 -3.82zM90 715.78l3.62 3.82l-3.62 3.82l-3.62 -3.82zM99.4 716.78l3.62 3.82l-3.62 3.82l-3.62 -3.82zM71.6 718.58l3.62 3.82l-3.62 3.82l-3.62 -3.82zM85.4 722.58l3.62 3.82l-3.62 3.82l-3.62 -3.82zM104.6 723.58l3.62 3.82l-3.62 3.82l-3.62 -3.82zM93 725.18l3.62 3.82l-3.62 3.82l-3.62 -3.82z"/>
<text class="k" x="42.62" y="690.65" textLength="8" lengthAdjust="spacingAndGlyphs">-2</text>
<text class="k" x="89.32" y="690.65" textLength="8" lengthAdjust="spacingAndGlyphs">-1</text>
<text class="k" x="137.09" y="690.65" textLength="5.84" lengthAdjust="spacingAndGlyphs">0</text>
<text class="k" x="183.64" y="690.65" textLength="5.84" lengthAdjust="spacingAndGlyphs">1</text>
<text class="k" x="230.47" y="690.65" textLength="5.84" lengthAdjust="spacingAndGlyphs">2</text>
<text class="k" x="125.12" y="561.4" textLength="5.84" lengthAdjust="spacingAndGlyphs">3</text>
<text class="k" x="125.17" y="599.65" textLength="5.84" lengthAdjust="spacingAndGlyphs">2</text>
<text class="k" x="124.27" y="637.9" textLength="5.84" lengthAdjust="spacingAndGlyphs">1</text>
<text class="k" x="125.07" y="676.15" textLength="5.84" lengthAdjust="spacingAndGlyphs">0</text>
<text class="k" x="122.04" y="714" textLength="8" lengthAdjust="spacingAndGlyphs">-1</text>
<text class="k" x="122.94" y="752" textLength="8" lengthAdjust="spacingAndGlyphs">-2</text>
<path class="r" d="M67.4 724.4L224 613.6"/>
<text class="l" y="771.3"><tspan x="70.01" textLength="26.13" lengthAdjust="spacingAndGlyphs">score</tspan> <tspan x="98.25" textLength="14.7" lengthAdjust="spacingAndGlyphs">for</tspan> <tspan x="115.38" textLength="61.16" lengthAdjust="spacingAndGlyphs">metabolome</tspan> <tspan x="179.46" textLength="17.88" lengthAdjust="spacingAndGlyphs">PC1</tspan></text>
<text class="l" transform="translate(33.8 713.4) rotate(-90)" y="0"><tspan x="-0.29" textLength="25.52" lengthAdjust="spacingAndGlyphs">score</tspan> <tspan x="27.67" textLength="13.98" lengthAdjust="spacingAndGlyphs">for</tspan> <tspan x="44.4" textLength="57.24" lengthAdjust="spacingAndGlyphs">microbiome</tspan> <tspan x="105.69" textLength="17.13" lengthAdjust="spacingAndGlyphs">PC1</tspan></text>
</g>
<g>
<text class="t" x="252.61" y="541.8" textLength="46.85" lengthAdjust="spacingAndGlyphs">Genus</text>
<text class="t" x="269.07" y="574.9" textLength="63.21" lengthAdjust="spacingAndGlyphs">r = 0.920</text>
<path class="a" d="M263.7 675.3H451.3 M357.5 561V750.7 M263.7 675.3v3.2 M310.6 675.3v3.2 M357.5 675.3v3.2 M404.4 675.3v3.2 M451.3 675.3v3.2 M357.5 561h-3.4 M357.5 599.1h-3.4 M357.5 637.2h-3.4 M357.5 675.3h-3.4 M357.5 713.3h-3.4 M357.5 750.7h-3.4"/>
<path class="d" d="M396.6 576.58l3.62 3.82l-3.62 3.82l-3.62 -3.82zM410 605.58l3.62 3.82l-3.62 3.82l-3.62 -3.82zM417.6 611.18l3.62 3.82l-3.62 3.82l-3.62 -3.82zM408 612.18l3.62 3.82l-3.62 3.82l-3.62 -3.82zM402 613.78l3.62 3.82l-3.62 3.82l-3.62 -3.82zM399.4 616.78l3.62 3.82l-3.62 3.82l-3.62 -3.82zM407.4 616.78l3.62 3.82l-3.62 3.82l-3.62 -3.82zM398.6 620.78l3.62 3.82l-3.62 3.82l-3.62 -3.82zM411.4 623.58l3.62 3.82l-3.62 3.82l-3.62 -3.82zM442 621.78l3.62 3.82l-3.62 3.82l-3.62 -3.82zM388 628.78l3.62 3.82l-3.62 3.82l-3.62 -3.82zM397.6 629.18l3.62 3.82l-3.62 3.82l-3.62 -3.82zM402.4 629.78l3.62 3.82l-3.62 3.82l-3.62 -3.82zM396 634.18l3.62 3.82l-3.62 3.82l-3.62 -3.82zM404 633.18l3.62 3.82l-3.62 3.82l-3.62 -3.82zM406.4 635.18l3.62 3.82l-3.62 3.82l-3.62 -3.82zM369.5 642.18l3.62 3.82l-3.62 3.82l-3.62 -3.82zM387.4 641.18l3.62 3.82l-3.62 3.82l-3.62 -3.82zM392 639.78l3.62 3.82l-3.62 3.82l-3.62 -3.82zM397 639.18l3.62 3.82l-3.62 3.82l-3.62 -3.82zM416 642.18l3.62 3.82l-3.62 3.82l-3.62 -3.82zM430.6 638.78l3.62 3.82l-3.62 3.82l-3.62 -3.82zM427.4 641.18l3.62 3.82l-3.62 3.82l-3.62 -3.82zM398 645.18l3.62 3.82l-3.62 3.82l-3.62 -3.82zM428.6 649.18l3.62 3.82l-3.62 3.82l-3.62 -3.82zM388 652.78l3.62 3.82l-3.62 3.82l-3.62 -3.82zM408.6 653.58l3.62 3.82l-3.62 3.82l-3.62 -3.82zM409 655.78l3.62 3.82l-3.62 3.82l-3.62 -3.82zM397 654.58l3.62 3.82l-3.62 3.82l-3.62 -3.82zM393 656.78l3.62 3.82l-3.62 3.82l-3.62 -3.82zM423.4 656.78l3.62 3.82l-3.62 3.82l-3.62 -3.82zM385.6 659.18l3.62 3.82l-3.62 3.82l-3.62 -3.82zM360 667.48l3.62 3.82l-3.62 3.82l-3.62 -3.82zM372.3 667.48l3.62 3.82l-3.62 3.82l-3.62 -3.82zM368.6 669.58l3.62 3.82l-3.62 3.82l-3.62 -3.82zM383.6 671.18l3.62 3.82l-3.62 3.82l-3.62 -3.82zM361.4 675.58l3.62 3.82l-3.62 3.82l-3.62 -3.82zM350 686.98l3.62 3.82l-3.62 3.82l-3.62 -3.82zM350 688.48l3.62 3.82l-3.62 3.82l-3.62 -3.82zM334 696.18l3.62 3.82l-3.62 3.82l-3.62 -3.82zM331 698.78l3.62 3.82l-3.62 3.82l-3.62 -3.82zM324.6 699.18l3.62 3.82l-3.62 3.82l-3.62 -3.82zM324 703.18l3.62 3.82l-3.62 3.82l-3.62 -3.82zM326 704.68l3.62 3.82l-3.62 3.82l-3.62 -3.82zM328.8 707.78l3.62 3.82l-3.62 3.82l-3.62 -3.82zM284 714.18l3.62 3.82l-3.62 3.82l-3.62 -3.82zM288 712.18l3.62 3.82l-3.62 3.82l-3.62 -3.82zM293 708.18l3.62 3.82l-3.62 3.82l-3.62 -3.82zM295 710.18l3.62 3.82l-3.62 3.82l-3.62 -3.82zM298 708.18l3.62 3.82l-3.62 3.82l-3.62 -3.82zM302 707.18l3.62 3.82l-3.62 3.82l-3.62 -3.82zM307 705.18l3.62 3.82l-3.62 3.82l-3.62 -3.82zM305 709.18l3.62 3.82l-3.62 3.82l-3.62 -3.82zM309 710.18l3.62 3.82l-3.62 3.82l-3.62 -3.82zM312 706.18l3.62 3.82l-3.62 3.82l-3.62 -3.82zM316 707.18l3.62 3.82l-3.62 3.82l-3.62 -3.82zM320 706.18l3.62 3.82l-3.62 3.82l-3.62 -3.82zM322 704.18l3.62 3.82l-3.62 3.82l-3.62 -3.82zM311 712.78l3.62 3.82l-3.62 3.82l-3.62 -3.82zM316 711.18l3.62 3.82l-3.62 3.82l-3.62 -3.82zM319 709.18l3.62 3.82l-3.62 3.82l-3.62 -3.82zM300 709.18l3.62 3.82l-3.62 3.82l-3.62 -3.82z"/>
<text class="k" x="259.72" y="692.1" textLength="8" lengthAdjust="spacingAndGlyphs">-2</text>
<text class="k" x="306.62" y="692.1" textLength="8" lengthAdjust="spacingAndGlyphs">-1</text>
<text class="k" x="354.59" y="692.1" textLength="5.84" lengthAdjust="spacingAndGlyphs">0</text>
<text class="k" x="401.34" y="692.1" textLength="5.84" lengthAdjust="spacingAndGlyphs">1</text>
<text class="k" x="448.37" y="692.1" textLength="5.84" lengthAdjust="spacingAndGlyphs">2</text>
<text class="k" x="342.02" y="563.9" textLength="5.84" lengthAdjust="spacingAndGlyphs">3</text>
<text class="k" x="342.07" y="602" textLength="5.84" lengthAdjust="spacingAndGlyphs">2</text>
<text class="k" x="341.17" y="640.1" textLength="5.84" lengthAdjust="spacingAndGlyphs">1</text>
<text class="k" x="341.97" y="678.2" textLength="5.84" lengthAdjust="spacingAndGlyphs">0</text>
<text class="k" x="338.94" y="716.2" textLength="8" lengthAdjust="spacingAndGlyphs">-1</text>
<text class="k" x="339.84" y="753.6" textLength="8" lengthAdjust="spacingAndGlyphs">-2</text>
<path class="r" d="M284.4 729L441.6 612.4"/>
<text class="l" y="772.4"><tspan x="290.6" textLength="26.32" lengthAdjust="spacingAndGlyphs">score</tspan> <tspan x="319.05" textLength="14.8" lengthAdjust="spacingAndGlyphs">for</tspan> <tspan x="336.3" textLength="61.6" lengthAdjust="spacingAndGlyphs">metabolome</tspan> <tspan x="400.83" textLength="18.01" lengthAdjust="spacingAndGlyphs">PC1</tspan></text>
<text class="l" transform="translate(250.4 716) rotate(-90)" y="0"><tspan x="-0.29" textLength="25.52" lengthAdjust="spacingAndGlyphs">score</tspan> <tspan x="27.67" textLength="13.98" lengthAdjust="spacingAndGlyphs">for</tspan> <tspan x="44.4" textLength="57.24" lengthAdjust="spacingAndGlyphs">microbiome</tspan> <tspan x="105.69" textLength="17.13" lengthAdjust="spacingAndGlyphs">PC1</tspan></text>
</g>
<g>
<text class="t" x="480.98" y="541.8" textLength="56.57" lengthAdjust="spacingAndGlyphs">Species</text>
<text class="t" x="489.57" y="569.8" textLength="63.21" lengthAdjust="spacingAndGlyphs">r = 0.718</text>
<path class="a" d="M481.6 656.3H683.2 M582.4 564.5V748.1 M481.6 656.3v3.2 M532 656.3v3.2 M582.4 656.3v3.2 M632.8 656.3v3.2 M683.2 656.3v3.2 M582.4 564.5h-3.4 M582.4 610.4h-3.4 M582.4 656.3h-3.4 M582.4 702.2h-3.4 M582.4 748.1h-3.4"/>
<path class="d" d="M597.6 584.8l3.95 4.2l-3.95 4.2l-3.95 -4.2zM623.6 583.8l3.95 4.2l-3.95 4.2l-3.95 -4.2zM630.6 589.4l3.95 4.2l-3.95 4.2l-3.95 -4.2zM626 591.8l3.95 4.2l-3.95 4.2l-3.95 -4.2zM625 594.8l3.95 4.2l-3.95 4.2l-3.95 -4.2zM640 590.4l3.95 4.2l-3.95 4.2l-3.95 -4.2zM644.6 590.4l3.95 4.2l-3.95 4.2l-3.95 -4.2zM660 589.4l3.95 4.2l-3.95 4.2l-3.95 -4.2zM610.4 596.4l3.95 4.2l-3.95 4.2l-3.95 -4.2zM618.4 597.2l3.95 4.2l-3.95 4.2l-3.95 -4.2zM647 599.2l3.95 4.2l-3.95 4.2l-3.95 -4.2zM658.4 595.8l3.95 4.2l-3.95 4.2l-3.95 -4.2zM657 602.2l3.95 4.2l-3.95 4.2l-3.95 -4.2zM584.4 605.2l3.95 4.2l-3.95 4.2l-3.95 -4.2zM672.6 646.2l3.95 4.2l-3.95 4.2l-3.95 -4.2zM652.6 649.8l3.95 4.2l-3.95 4.2l-3.95 -4.2zM645 648.8l3.95 4.2l-3.95 4.2l-3.95 -4.2zM594 650.8l3.95 4.2l-3.95 4.2l-3.95 -4.2zM586.6 654.3l3.95 4.2l-3.95 4.2l-3.95 -4.2zM595 658.8l3.95 4.2l-3.95 4.2l-3.95 -4.2zM574.5 658.5l3.95 4.2l-3.95 4.2l-3.95 -4.2zM574.2 662.6l3.95 4.2l-3.95 4.2l-3.95 -4.2zM557.3 661l3.95 4.2l-3.95 4.2l-3.95 -4.2zM553.2 662.8l3.95 4.2l-3.95 4.2l-3.95 -4.2zM551.2 673.3l3.95 4.2l-3.95 4.2l-3.95 -4.2zM612 651.8l3.95 4.2l-3.95 4.2l-3.95 -4.2zM615 650.8l3.95 4.2l-3.95 4.2l-3.95 -4.2zM618 652.8l3.95 4.2l-3.95 4.2l-3.95 -4.2zM621 651.8l3.95 4.2l-3.95 4.2l-3.95 -4.2zM625 647.8l3.95 4.2l-3.95 4.2l-3.95 -4.2zM624 652.8l3.95 4.2l-3.95 4.2l-3.95 -4.2zM628 650.8l3.95 4.2l-3.95 4.2l-3.95 -4.2zM631 653.8l3.95 4.2l-3.95 4.2l-3.95 -4.2zM634 646.8l3.95 4.2l-3.95 4.2l-3.95 -4.2zM636 649.8l3.95 4.2l-3.95 4.2l-3.95 -4.2zM639 650.8l3.95 4.2l-3.95 4.2l-3.95 -4.2zM635 654.8l3.95 4.2l-3.95 4.2l-3.95 -4.2zM613 656.8l3.95 4.2l-3.95 4.2l-3.95 -4.2zM624 654.8l3.95 4.2l-3.95 4.2l-3.95 -4.2zM636 655.8l3.95 4.2l-3.95 4.2l-3.95 -4.2zM630 651.8l3.95 4.2l-3.95 4.2l-3.95 -4.2zM503.6 669.8l3.95 4.2l-3.95 4.2l-3.95 -4.2zM529 665.4l3.95 4.2l-3.95 4.2l-3.95 -4.2zM543 664.2l3.95 4.2l-3.95 4.2l-3.95 -4.2zM546.6 662.4l3.95 4.2l-3.95 4.2l-3.95 -4.2zM547 671.8l3.95 4.2l-3.95 4.2l-3.95 -4.2zM509 679.2l3.95 4.2l-3.95 4.2l-3.95 -4.2zM513 675.8l3.95 4.2l-3.95 4.2l-3.95 -4.2zM515 673.8l3.95 4.2l-3.95 4.2l-3.95 -4.2zM521 673.8l3.95 4.2l-3.95 4.2l-3.95 -4.2zM524 672.8l3.95 4.2l-3.95 4.2l-3.95 -4.2zM527 670.8l3.95 4.2l-3.95 4.2l-3.95 -4.2zM517 683.8l3.95 4.2l-3.95 4.2l-3.95 -4.2zM523 683.8l3.95 4.2l-3.95 4.2l-3.95 -4.2zM532 683.8l3.95 4.2l-3.95 4.2l-3.95 -4.2zM530 678.8l3.95 4.2l-3.95 4.2l-3.95 -4.2zM535 677.8l3.95 4.2l-3.95 4.2l-3.95 -4.2zM539 679.8l3.95 4.2l-3.95 4.2l-3.95 -4.2zM544 679.8l3.95 4.2l-3.95 4.2l-3.95 -4.2zM537 674.8l3.95 4.2l-3.95 4.2l-3.95 -4.2zM541 673.8l3.95 4.2l-3.95 4.2l-3.95 -4.2zM526 677.8l3.95 4.2l-3.95 4.2l-3.95 -4.2zM521 677.8l3.95 4.2l-3.95 4.2l-3.95 -4.2zM534 680.8l3.95 4.2l-3.95 4.2l-3.95 -4.2zM539 675.8l3.95 4.2l-3.95 4.2l-3.95 -4.2z"/>
<text class="k" x="477.62" y="673" textLength="8" lengthAdjust="spacingAndGlyphs">-2</text>
<text class="k" x="528.02" y="673" textLength="8" lengthAdjust="spacingAndGlyphs">-1</text>
<text class="k" x="579.49" y="673" textLength="5.84" lengthAdjust="spacingAndGlyphs">0</text>
<text class="k" x="629.74" y="673" textLength="5.84" lengthAdjust="spacingAndGlyphs">1</text>
<text class="k" x="680.27" y="673" textLength="5.84" lengthAdjust="spacingAndGlyphs">2</text>
<text class="k" x="559.73" y="568.2" textLength="13.68" lengthAdjust="spacingAndGlyphs">100</text>
<text class="k" x="563.45" y="614.1" textLength="10.01" lengthAdjust="spacingAndGlyphs">50</text>
<text class="k" x="567.67" y="660" textLength="5.84" lengthAdjust="spacingAndGlyphs">0</text>
<text class="k" x="561.56" y="705.9" textLength="11.85" lengthAdjust="spacingAndGlyphs">-50</text>
<text class="k" x="555.83" y="751.8" textLength="17.61" lengthAdjust="spacingAndGlyphs">-100</text>
<path class="r" d="M504 689.4L672.6 618.4"/>
<text class="l" y="770"><tspan x="520.61" textLength="26.13" lengthAdjust="spacingAndGlyphs">score</tspan> <tspan x="548.85" textLength="14.7" lengthAdjust="spacingAndGlyphs">for</tspan> <tspan x="565.98" textLength="61.16" lengthAdjust="spacingAndGlyphs">metabolome</tspan> <tspan x="630.06" textLength="17.88" lengthAdjust="spacingAndGlyphs">PC1</tspan></text>
<text class="l" transform="translate(472.1 710) rotate(-90)" y="0"><tspan x="-0.3" textLength="26.69" lengthAdjust="spacingAndGlyphs">score</tspan> <tspan x="28.93" textLength="14.62" lengthAdjust="spacingAndGlyphs">for</tspan> <tspan x="46.43" textLength="59.86" lengthAdjust="spacingAndGlyphs">microbiome</tspan> <tspan x="110.53" textLength="17.91" lengthAdjust="spacingAndGlyphs">PC1</tspan></text>
</g>
<text class="b" x="-0.61" y="13.2" textLength="12.37" lengthAdjust="spacingAndGlyphs">a</text>
<text class="b" x="0.06" y="538.1" textLength="15.91" lengthAdjust="spacingAndGlyphs" style="font-size:23.6px">b</text>
</svg>
</body></html>
